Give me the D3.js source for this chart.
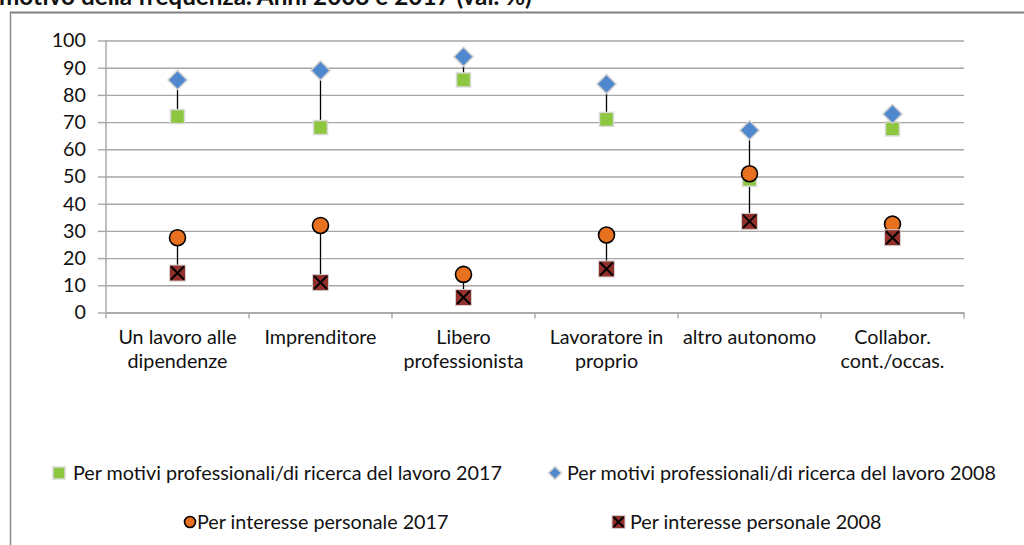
<!DOCTYPE html>
<html>
<head>
<meta charset="utf-8">
<script src="https://cdn.jsdelivr.net/npm/d3@7"></script>
<style>
  body { margin: 0; background: #fff; }
  svg { display: block; font-family: Lato, "Open Sans", sans-serif; }
  text { fill: #111; }
</style>
</head>
<body>
<svg id="chart"></svg>
<script>
const width = 1024;
const height = 545;

const categories = ["Un lavoro alle\ndipendenze", "Imprenditore", "Libero\nprofessionista",
                    "Lavoratore in\nproprio", "altro autonomo", "Collabor.\ncont./occas."];
const prof2017 = [72, 68, 85.5, 71, 49, 67.5];
const prof2008 = [85.5, 89, 94, 84, 67, 73];
const pers2017 = [27.5, 32, 14, 28.5, 51, 32.5];
const pers2008 = [14.5, 11, 5.5, 16, 33.5, 27.5];
const yTicks = [0, 10, 20, 30, 40, 50, 60, 70, 80, 90, 100];
const legendLabels = ["Per motivi professionali/di ricerca del lavoro 2017",
                      "Per motivi professionali/di ricerca del lavoro 2008",
                      "Per interesse personale 2017",
                      "Per interesse personale 2008"];
const title = "motivo della frequenza. Anni 2008 e 2017 (val. %)";

const plot = { left: 106, right: 964, top: 40.5, bottom: 312.5 };

const svg = d3.select("#chart")
              .attr("width", width)
              .attr("height", height);

// pick a font size so a sample string gets the width seen in the picture
function fitSize(str, target, weight) {
  const t = svg.append("text").style("font-size", "100px").style("font-weight", weight).text(str);
  const w = t.node().getComputedTextLength();
  t.remove();
  return 100 * target / w;
}
const fs = fitSize(legendLabels[0], 429, "normal");
const titleFs = fitSize(title, 533, "bold");

// page frame and clipped title
svg.append("text")
   .attr("x", -1)
   .attr("y", 4.5)
   .style("font-weight", "bold")
   .style("font-size", titleFs + "px")
   .text(title);
svg.append("line")
   .attr("x1", 10).attr("x2", width)
   .attr("y1", 12.5).attr("y2", 12.5)
   .attr("stroke", "#808080").attr("stroke-width", 2);
svg.append("line")
   .attr("x1", 10.5).attr("x2", 10.5)
   .attr("y1", 12).attr("y2", height)
   .attr("stroke", "#8c8c8c").attr("stroke-width", 1.5);

const xScale = d3.scaleBand()
                 .domain(categories)
                 .range([plot.left, plot.right]);
const yScale = d3.scaleLinear()
                 .domain([0, 100])
                 .range([plot.bottom, plot.top]);

// gridlines
const grid = svg.append("g")
   .attr("transform", `translate(${plot.left},0)`)
   .call(d3.axisLeft(yScale).tickValues(yTicks).tickSize(-(plot.right - plot.left)).tickFormat(""));
grid.select(".domain").remove();
grid.selectAll("line").attr("stroke", "#a6a6a6").attr("stroke-width", 1.4);

// y axis
const yAxis = svg.append("g")
   .attr("transform", `translate(${plot.left},0)`)
   .call(d3.axisLeft(yScale).tickValues(yTicks).tickSize(8).tickPadding(12));
yAxis.select(".domain").attr("stroke", "#a6a6a6").attr("stroke-width", 1.4)
     .attr("d", `M0,${plot.top}V${plot.bottom}`);
yAxis.selectAll("line").attr("stroke", "#a6a6a6").attr("stroke-width", 1.4);
yAxis.selectAll("text").style("font-size", fs + "px").style("font-family", "Lato").attr("fill", "#111");

// x axis
const xAxis = svg.append("g")
   .attr("transform", `translate(0,${plot.bottom})`)
   .call(d3.axisBottom(xScale).tickSize(0).tickFormat(""));
xAxis.select(".domain").attr("stroke", "#a6a6a6").attr("stroke-width", 1.4);
const boundaries = categories.map(c => xScale(c)).concat([xScale.range()[1]]);
xAxis.selectAll(".bound")
     .data(boundaries)
     .enter()
     .append("line")
     .attr("x1", d => d).attr("x2", d => d)
     .attr("y1", 0).attr("y2", 6)
     .attr("stroke", "#a6a6a6").attr("stroke-width", 1.4);

svg.selectAll(".cat")
   .data(categories)
   .enter()
   .append("text")
   .attr("class", "cat")
   .attr("text-anchor", "middle")
   .style("font-size", fs + "px")
   .attr("transform", d => `translate(${xScale(d) + xScale.bandwidth() / 2},343.5)`)
   .selectAll("tspan")
   .data(d => d.split("\n"))
   .enter()
   .append("tspan")
   .attr("x", 0)
   .attr("y", (d, i) => i * 24)
   .text(d => d);

const cx = i => xScale(categories[i]) + xScale.bandwidth() / 2;

// high-low lines per group
const groups = [[prof2017, prof2008], [pers2017, pers2008]];
groups.forEach(([a, b]) => {
  svg.append("g").selectAll("line")
     .data(categories)
     .enter()
     .append("line")
     .attr("x1", (d, i) => cx(i)).attr("x2", (d, i) => cx(i))
     .attr("y1", (d, i) => yScale(Math.max(a[i], b[i])))
     .attr("y2", (d, i) => yScale(Math.min(a[i], b[i])))
     .attr("stroke", "#000").attr("stroke-width", 1.3);
});

// marker painters
function squareMark(g, s) {
  g.append("rect").attr("x", -s / 2).attr("y", -s / 2).attr("width", s).attr("height", s)
   .attr("fill", "#8dc63f").attr("stroke", "#d9d9d9").attr("stroke-width", 1.5);
}
function diamondMark(g, s) {
  g.append("rect").attr("x", -s / 2).attr("y", -s / 2).attr("width", s).attr("height", s)
   .attr("transform", "rotate(45)")
   .attr("fill", "#4f88cc").attr("stroke", "#d0d0d0").attr("stroke-width", 1.5);
}
function circleMark(g, s) {
  g.append("circle").attr("r", s / 2)
   .attr("fill", "#e8711f").attr("stroke", "#000").attr("stroke-width", 1.6);
}
function crossMark(g, s) {
  g.append("rect").attr("x", -s / 2).attr("y", -s / 2).attr("width", s).attr("height", s)
   .attr("fill", "#93302c").attr("stroke", "#d0d0d0").attr("stroke-width", 1);
  const k = s / 2 - 1.5;
  g.append("path").attr("d", `M${-k},${-k}L${k},${k}M${k},${-k}L${-k},${k}`)
   .attr("stroke", "#000").attr("stroke-width", 2);
}

const series = [
  { values: prof2017, draw: squareMark, size: 14 },
  { values: prof2008, draw: diamondMark, size: 13.5 },
  { values: pers2017, draw: circleMark, size: 16 },
  { values: pers2008, draw: crossMark, size: 16 }
];

series.forEach(s => {
  svg.append("g").selectAll("g")
     .data(s.values)
     .enter()
     .append("g")
     .attr("transform", (d, i) => `translate(${cx(i)},${yScale(d)})`)
     .each(function () { s.draw(d3.select(this), s.size); });
});

// legend
const legendPos = [
  { x: 59, y: 473, tx: 73, size: 12 },
  { x: 555, y: 473, tx: 567, size: 9 },
  { x: 190, y: 522, tx: 197, size: 11 },
  { x: 618.5, y: 522, tx: 630, size: 13 }
];
legendLabels.forEach((label, i) => {
  const p = legendPos[i];
  const g = svg.append("g").attr("transform", `translate(${p.x},${p.y})`);
  series[i].draw(g, p.size);
  svg.append("text")
     .attr("x", p.tx)
     .attr("y", p.y)
     .attr("dy", "0.35em")
     .style("font-size", fs + "px")
     .text(label);
});
</script>
</body>
</html>
